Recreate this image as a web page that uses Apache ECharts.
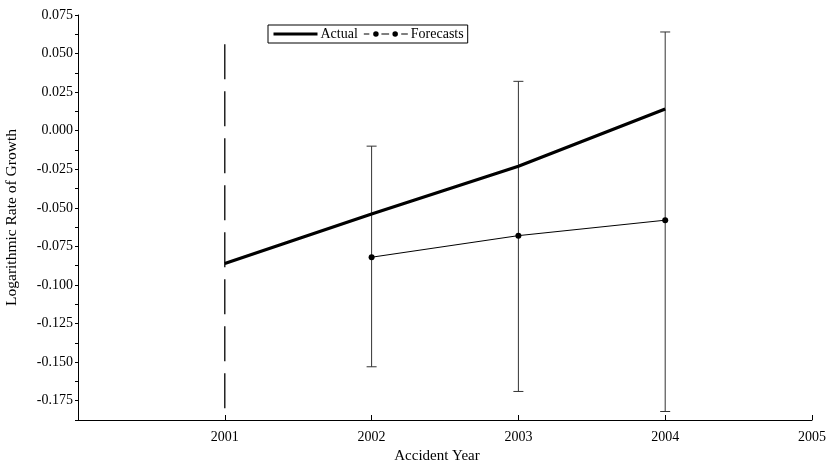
<!DOCTYPE html>
<html>
<head>
<meta charset="utf-8">
<script src="https://cdn.jsdelivr.net/npm/echarts@6/dist/echarts.min.js"></script>
<style>html,body{margin:0;padding:0;background:#fff}#c{width:830px;height:462px}</style>
</head>
<body>
<div id="c"></div>
<script>
var actualYears = [2001, 2002, 2003, 2004];
var actualValues = [-0.086, -0.054, -0.023, 0.014];
var forecastYears = [2002, 2003, 2004];
var forecastValues = [-0.082, -0.068, -0.058];
var forecastUpper = [-0.010, 0.032, 0.064];
var forecastLower = [-0.153, -0.169, -0.182];
var markerYear = 2001;
var markerTop = 0.056;
var xTickLabels = ['2001', '2002', '2003', '2004', '2005'];

var FONT = 'Liberation Serif';
var yMin = -0.1875, yMax = 0.075;

var chart = echarts.init(document.getElementById('c'), null, {renderer: 'canvas'});

var errData = forecastYears.map(function (y, i) { return [y, forecastLower[i], forecastUpper[i]]; });

var forecastIcon = 'path://M0 2h5v1h-5Z' +
  'M8.5 2.5A2.5 2.5 0 1 1 13.5 2.5A2.5 2.5 0 1 1 8.5 2.5Z' +
  'M16 2h7v1h-7Z' +
  'M26 2.5A2.5 2.5 0 1 1 31 2.5A2.5 2.5 0 1 1 26 2.5Z' +
  'M34 2h6v1h-6Z';

chart.setOption({
  animation: false,
  backgroundColor: '#fff',
  textStyle: {fontFamily: FONT, color: '#000'},
  grid: {left: 78, top: 15, right: 18, bottom: 42, containLabel: false, outerBoundsMode: 'none'},
  legend: {
    left: 268, top: 25,
    orient: 'horizontal',
    borderColor: '#000', borderWidth: 1, borderRadius: 0,
    padding: [2, 4, 2, 4],
    itemGap: 6,
    itemWidth: 44, itemHeight: 6,
    textStyle: {fontFamily: FONT, fontSize: 14, color: '#000', padding: [0, 0, 0, -2]},
    data: [
      {name: 'Actual', itemStyle: {opacity: 0}, lineStyle: {width: 3, color: '#000', opacity: 1}},
      {name: 'Forecasts', icon: forecastIcon, itemStyle: {color: '#000'}}
    ]
  },
  xAxis: {
    type: 'value', min: 2000, max: 2005, interval: 1,
    name: 'Accident Year', nameLocation: 'middle', nameGap: 28,
    nameTextStyle: {fontFamily: FONT, fontSize: 15, color: '#000', padding: [0, 16, 0, 0]},
    axisLine: {show: true, onZero: false, lineStyle: {color: '#000', width: 1}},
    axisTick: {show: true, inside: true, length: 5, lineStyle: {color: '#000'}},
    axisLabel: {
      fontFamily: FONT, fontSize: 14, color: '#000', margin: 10,
      formatter: function (v) { var i = Math.round(v) - 2001; return (i >= 0 && i < xTickLabels.length) ? xTickLabels[i] : ''; }
    },
    splitLine: {show: false}
  },
  yAxis: {
    type: 'value', min: yMin, max: yMax, interval: 0.0125,
    name: 'Logarithmic Rate of Growth', nameLocation: 'middle', nameGap: 58,
    nameTextStyle: {fontFamily: FONT, fontSize: 15.5, color: '#000'},
    axisLine: {show: true, onZero: false, lineStyle: {color: '#000', width: 1}},
    axisTick: {show: true, inside: false, length: 3, lineStyle: {color: '#000'}},
    axisLabel: {
      fontFamily: FONT, fontSize: 14, color: '#000', margin: 5,
      formatter: function (v) {
        var k = Math.round(v / 0.0125);
        if (k % 2 !== 0) return '';
        if (Math.abs(v) < 1e-9) return '0.000';
        return v.toFixed(3);
      }
    },
    splitLine: {show: false}
  },
  series: [
    {
      name: 'Actual', type: 'line', z: 5,
      data: actualYears.map(function (y, i) { return [y, actualValues[i]]; }),
      symbol: 'none',
      lineStyle: {color: '#000', width: 3.2},
      itemStyle: {color: '#000'}
    },
    {
      name: 'Forecasts', type: 'line', z: 4,
      data: forecastYears.map(function (y, i) { return [y, forecastValues[i]]; }),
      symbol: 'circle', symbolSize: 6,
      lineStyle: {color: '#000', width: 1},
      itemStyle: {color: '#000'}
    },
    {
      name: 'errbars', type: 'custom', z: 3,
      data: errData,
      renderItem: function (params, api) {
        var x = api.value(0);
        var lo = api.coord([x, api.value(1)]);
        var hi = api.coord([x, api.value(2)]);
        var w = 5;
        var st = {stroke: '#333', lineWidth: 1};
        return {
          type: 'group',
          children: [
            {type: 'line', shape: {x1: lo[0], y1: lo[1], x2: hi[0], y2: hi[1]}, style: st},
            {type: 'line', shape: {x1: lo[0] - w, y1: lo[1], x2: lo[0] + w, y2: lo[1]}, style: st},
            {type: 'line', shape: {x1: hi[0] - w, y1: hi[1], x2: hi[0] + w, y2: hi[1]}, style: st}
          ]
        };
      },
      silent: true
    },
    {
      name: 'marker', type: 'line', z: 2,
      data: [[markerYear, markerTop], [markerYear, yMin]],
      symbol: 'none',
      lineStyle: {color: '#000', width: 1.3, type: [35, 12]},
      silent: true
    }
  ]
});
</script>
</body>
</html>
